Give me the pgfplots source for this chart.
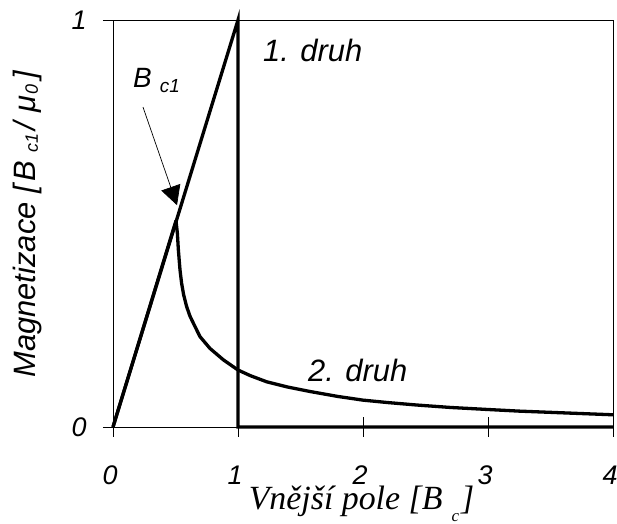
\documentclass[border=0pt]{standalone}
\usepackage{fontspec}
\setmainfont{Liberation Sans}
\newfontfamily\timesit{Liberation Serif}
\usepackage{pgfplots}
\pgfplotsset{compat=1.18}
\usetikzlibrary{arrows.meta}

% magnetization curves: type I and type II superconductor
\pgfplotstableread{
x y
0 0
1 1
1 0
4 0
}\typeone

\pgfplotstableread{
x y
0     0
0.504 0.507
0.515 0.476
0.523 0.435
0.536 0.386
0.549 0.353
0.565 0.325
0.589 0.296
0.615 0.273
0.643 0.255
0.696 0.222
0.776 0.193
0.883 0.165
1.0   0.140
1.1   0.126
1.23  0.111
1.4   0.098
1.58  0.087
1.8   0.075
2.0   0.066
2.2   0.060
2.43  0.054
2.7   0.048
3.0   0.043
3.25  0.039
3.5   0.036
3.75  0.033
4.0   0.030
}\typetwo

\newcommand\sub[1]{{\fontsize{18}{20}\selectfont #1}}

\begin{document}
\begin{tikzpicture}
\begin{axis}[
  at={(0,0)}, anchor=south west,
  scale only axis, width=500bp, height=407bp,
  xmin=0, xmax=4, ymin=0, ymax=1,
  xtick={0,1,2,3,4}, ytick={0,1},
  xtick pos=bottom, ytick pos=left,
  tick align=center, major tick length=20bp,
  axis line style={line width=0.8bp},
  every tick/.style={black, line width=0.8bp},
  /pgf/number format/assume math mode=true,
  ticklabel style={font=\fontsize{27}{30}\selectfont\itshape},
  xticklabel style={inner sep=0pt, yshift=-29bp, xshift=-3bp},
  yticklabel style={xshift=-13bp},
  clip=false,
  xlabel={\timesit\itshape\fontsize{34}{36}\selectfont Vnější pole [B\hspace{9bp}\raisebox{-12bp}{\fontsize{17}{18}\selectfont c}\hspace{2bp}]},
  xlabel style={at={(axis description cs:0.497,-0.2015)}, anchor=base, inner sep=0pt},
  ylabel={\fontsize{31}{34}\selectfont\itshape Magnetizace [\hspace{4bp}B\hspace{8bp}\raisebox{-2bp}{\sub{c1}}\hspace{3bp}/\hspace{10bp}μ\hspace{1bp}\raisebox{-2bp}{\sub{0}}\hspace{5bp}]},
  ylabel style={at={(axis description cs:-0.154,0.4988)}, anchor=base},
]
\addplot[black, line width=3.3bp, line join=miter] table[x=x,y=y]{\typeone};
\addplot[black, line width=3.3bp, line join=round] table[x=x,y=y]{\typetwo};

\draw[black, line width=0.7bp, -{Triangle[length=19bp,width=20bp]}]
  (axis cs:0.24,0.786) -- (axis cs:0.512,0.545);

\node[anchor=base west, inner sep=0pt, font=\fontsize{28}{30}\selectfont\itshape]
  at (axis cs:0.16,0.835) {B\hspace{8bp}\raisebox{-5bp}{\fontsize{19}{20}\selectfont c1}};
\node[anchor=base west, inner sep=0pt, font=\fontsize{31}{34}\selectfont\itshape]
  at (axis cs:1.2,0.897) {1. druh};
\node[anchor=base west, inner sep=0pt, font=\fontsize{31}{34}\selectfont\itshape]
  at (axis cs:1.56,0.1106) {2. druh};
\end{axis}
\pgfresetboundingbox
\useasboundingbox (-113bp,-97bp) rectangle (504bp,427bp);
\end{tikzpicture}
\end{document}
